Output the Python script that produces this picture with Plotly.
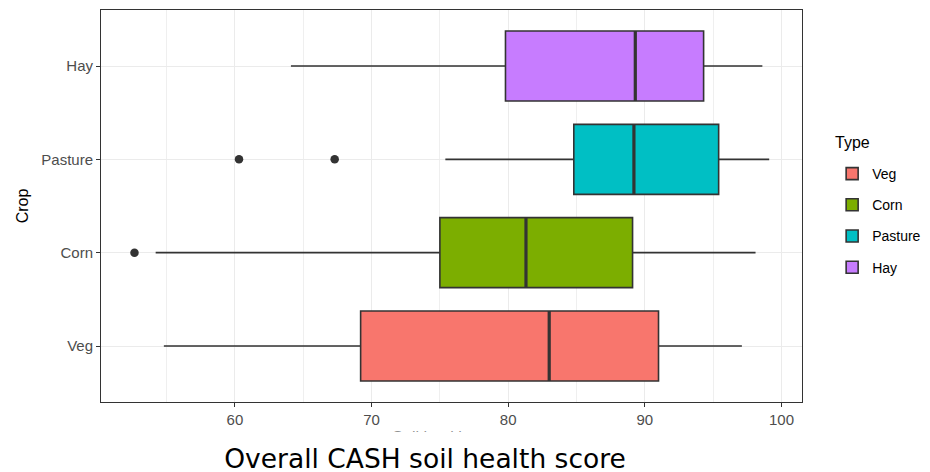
import plotly.graph_objects as go

# Crop groups, bottom to top
crops = ["Veg", "Corn", "Pasture", "Hay"]
colors = ["#F8766D", "#7CAE00", "#00BFC4", "#C77CFF"]

# Box statistics for the overall soil health score
lower_whisker = [54.8, 54.2, 75.4, 64.1]
q1 = [69.2, 75.0, 84.8, 79.8]
median = [83.0, 81.3, 89.2, 89.3]
q3 = [91.0, 89.1, 95.4, 94.3]
upper_whisker = [97.1, 98.1, 99.1, 98.6]

# Points beyond the whiskers
outlier_crop = ["Corn", "Pasture", "Pasture"]
outlier_score = [52.65, 60.3, 67.3]

positions = {c: i + 1 for i, c in enumerate(crops)}
LINE = "#333333"
BOX_W = 0.75

fig = go.Figure()

for i, c in enumerate(crops):
    p = positions[c]
    fig.add_trace(go.Box(
        y=[p], orientation="h",
        q1=[q1[i]], median=[median[i]], q3=[q3[i]],
        lowerfence=[lower_whisker[i]], upperfence=[upper_whisker[i]],
        name=c, legendgroup=c,
        fillcolor=colors[i],
        line=dict(color=LINE, width=1.6),
        whiskerwidth=0, width=BOX_W, boxpoints=False,
        hoverinfo="skip",
    ))

# Thicker median bars
for i, c in enumerate(crops):
    p = positions[c]
    fig.add_trace(go.Scatter(
        x=[median[i], median[i]], y=[p - BOX_W / 2, p + BOX_W / 2],
        mode="lines", line=dict(color=LINE, width=3.2),
        showlegend=False, hoverinfo="skip",
    ))

fig.add_trace(go.Scatter(
    x=outlier_score, y=[positions[c] for c in outlier_crop],
    mode="markers", marker=dict(color=LINE, size=8.5),
    showlegend=False, hoverinfo="skip",
))

AXFONT = dict(family="Liberation Sans, Arial, sans-serif", size=15, color="#4D4D4D")

fig.update_layout(
    width=930, height=472,
    margin=dict(l=101, r=128, t=10, b=70, autoexpand=False),
    paper_bgcolor="white", plot_bgcolor="white",
    font=dict(family="Liberation Sans, Arial, sans-serif", color="black"),
    showlegend=True,
    legend=dict(
        font=dict(size=14, color="black"),
        x=1.043, xanchor="left", y=(402 - 158) / 392, yanchor="top",
        traceorder="grouped", tracegroupgap=10,
        bgcolor="rgba(0,0,0,0)",
    ),
    xaxis=dict(
        range=[50.2, 101.5], tick0=60, dtick=10,
        showgrid=True, gridcolor="#EBEBEB", gridwidth=1.1,
        minor=dict(dtick=5, tick0=55, showgrid=True, gridcolor="#EFEFEF", gridwidth=0.8),
        ticks="outside", ticklen=4, tickcolor=LINE, tickwidth=1,
        tickfont=AXFONT, zeroline=False,
        showline=True, linecolor=LINE, linewidth=1, mirror=True,
        title=dict(text="Soil health score", font=dict(size=16, color="#222222"), standoff=4),
    ),
    yaxis=dict(
        range=[0.4, 4.6], tickvals=[positions[c] for c in crops], ticktext=crops,
        showgrid=True, gridcolor="#EBEBEB", gridwidth=1.1,
        ticks="outside", ticklen=4, tickcolor=LINE, tickwidth=1,
        tickfont=AXFONT, zeroline=False,
        showline=True, linecolor=LINE, linewidth=1, mirror=True,
        title=dict(text="Crop", font=dict(size=16, color="black"), standoff=8),
    ),
    annotations=[
        dict(
            text="Type",
            xref="paper", yref="paper",
            x=(833 - 101) / 701, y=(402 - 142) / 392,
            xanchor="left", yanchor="middle",
            showarrow=False,
            font=dict(family="Liberation Sans, Arial, sans-serif", size=16, color="black"),
        ),
        dict(
            text="Overall CASH soil health score",
            xref="paper", yref="paper",
            x=(425 - 101) / 701, y=(402 - 458) / 392,
            xanchor="center", yanchor="middle",
            showarrow=False, bgcolor="white",
            width=600, height=50,
            font=dict(family="DejaVu Sans, sans-serif", size=26.5, color="black"),
        ),
    ],
)

fig.write_html("out.html")
